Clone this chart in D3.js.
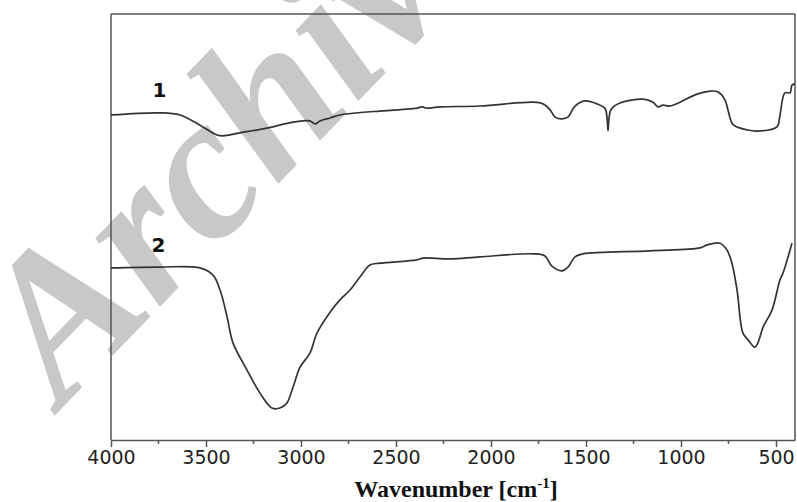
<!DOCTYPE html>
<html>
<head>
<meta charset="utf-8">
<script src="https://cdn.jsdelivr.net/npm/d3@7/dist/d3.min.js"></script>
<style>
  html, body { margin: 0; padding: 0; background: #fff; }
  svg { display: block; }
</style>
</head>
<body>
<svg id="chart" width="797" height="502"></svg>
<script>
// ---- data (wavenumber in cm^-1, transmittance in arbitrary units) ----
const wavenumber1 = [4000, 3742, 3637, 3532, 3442, 3411, 3321, 3179, 3042, 2953, 2926, 2900, 2847, 2795, 2653, 2584, 2390, 2363, 2337, 2268, 2058, 1779, 1726, 1689, 1663, 1626, 1595, 1558, 1505, 1442, 1400, 1389, 1384, 1379, 1368, 1321, 1200, 1147, 1121, 1095, 1058, 1005, 916, 847, 805, 768, 753, 732, 716, 653, 600, 495, 479, 453, 426, 416, 400];
const sample1 =    [76.3, 76.8, 76.3, 73.9, 71.6, 71.4, 72.1, 73.2, 74.6, 74.9, 74.2, 74.9, 75.6, 76.3, 77.0, 77.2, 77.9, 78.2, 77.9, 78.2, 78.4, 79.3, 78.9, 77.5, 75.8, 75.4, 75.8, 78.4, 79.6, 78.9, 77.8, 75.5, 72.6, 75.5, 77.6, 79.1, 80.0, 79.3, 78.2, 78.6, 78.4, 79.3, 81.2, 81.9, 81.7, 79.8, 77.5, 74.4, 73.7, 72.8, 72.5, 73.5, 76.3, 81.5, 81.5, 83.3, 83.6];

const wavenumber2 = [4000, 3742, 3532, 3463, 3426, 3389, 3358, 3284, 3216, 3153, 3111, 3074, 3042, 3005, 2953, 2916, 2847, 2795, 2742, 2689, 2637, 2584, 2390, 2358, 2216, 2058, 1779, 1716, 1679, 1626, 1595, 1558, 1516, 1163, 900, 863, 795, 758, 732, 705, 674, 647, 611, 595, 568, 521, 479, 463, 416];
const sample2 =    [40.4, 40.6, 40.4, 38.7, 35.2, 28.9, 22.8, 16.4, 11.0, 7.5, 7.5, 8.7, 12.4, 17.1, 20.4, 25.1, 30.0, 32.9, 35.2, 38.3, 41.1, 41.5, 42.3, 42.7, 42.5, 43.0, 43.7, 43.2, 40.8, 39.7, 40.6, 43.0, 43.7, 44.4, 45.1, 45.8, 46.2, 44.6, 41.5, 35.2, 25.1, 23.5, 21.8, 22.8, 26.5, 30.5, 37.6, 39.2, 46.2];

const majorTicks = [4000, 3500, 3000, 2500, 2000, 1500, 1000, 500];
const minorTicks = [3750, 3250, 2750, 2250, 1750, 1250, 750];
const seriesLabels = ["1", "2"];
const xTitle = "Wavenumber [cm";
const watermark = "Archive";

// ---- layout ----
const svg = d3.select("#chart");
const L = 111, R = 795, T = 14, B = 440;

const x = d3.scaleLinear().domain([4000, 400]).range([L, R]);
const y = d3.scaleLinear().domain([0, 100]).range([B, T]);

// watermark (behind everything)
svg.append("text")
  .attr("transform", "translate(62,408) rotate(-46)")
  .attr("font-family", "'Liberation Serif', 'Times New Roman', serif")
  .attr("font-weight", "bold")
  .attr("font-style", "italic")
  .attr("font-size", 205)
  .attr("fill", "#c8c8c8")
  .text(watermark);

// frame
const frame = svg.append("g").attr("stroke", "#555").attr("stroke-width", 1.5).attr("fill", "none");
frame.append("line").attr("x1", L).attr("x2", R).attr("y1", T).attr("y2", T);
frame.append("line").attr("x1", R).attr("x2", R).attr("y1", T).attr("y2", B);
frame.append("line").attr("x1", L).attr("x2", L).attr("y1", T).attr("y2", B);

// x axis
const ax = svg.append("g").attr("transform", `translate(0,${B})`)
  .call(d3.axisBottom(x).tickValues(majorTicks).tickSizeInner(7).tickSizeOuter(0).tickPadding(4).tickFormat(d3.format("d")));
ax.select(".domain").attr("stroke", "#555").attr("stroke-width", 1.5);
ax.selectAll(".tick line").attr("stroke", "#555").attr("stroke-width", 1.5);
ax.selectAll(".tick text")
  .attr("font-family", "'DejaVu Sans', Verdana, sans-serif")
  .attr("font-size", 19)
  .attr("fill", "#222");

svg.append("g").selectAll("line").data(minorTicks).join("line")
  .attr("x1", d => x(d)).attr("x2", d => x(d))
  .attr("y1", B).attr("y2", B + 4)
  .attr("stroke", "#555").attr("stroke-width", 1.5);

// axis title
const title = svg.append("text")
  .attr("x", 456)
  .attr("y", 497)
  .attr("text-anchor", "middle")
  .attr("font-family", "'Liberation Serif', 'Times New Roman', serif")
  .attr("font-weight", "bold")
  .attr("font-size", 24)
  .attr("fill", "#111");
title.append("tspan").text(xTitle);
title.append("tspan").attr("font-size", 15).attr("dy", -9).text("-1");
title.append("tspan").attr("dy", 9).text("]");

// spectra
const line = d3.line().x(d => x(d[0])).y(d => y(d[1])).curve(d3.curveCatmullRom.alpha(0.5));
const s1 = wavenumber1.map((w, i) => [w, sample1[i]]);
const s2 = wavenumber2.map((w, i) => [w, sample2[i]]);
svg.append("path").datum(s1).attr("d", line)
  .attr("fill", "none").attr("stroke", "#333").attr("stroke-width", 1.7);
svg.append("path").datum(s2).attr("d", line)
  .attr("fill", "none").attr("stroke", "#333").attr("stroke-width", 1.7);

// curve labels
const labelPos = [[3745, 97], [3750, 252]];
svg.append("g").selectAll("text").data(seriesLabels).join("text")
  .attr("x", (d, i) => x(labelPos[i][0]))
  .attr("y", (d, i) => labelPos[i][1])
  .attr("text-anchor", "middle")
  .attr("font-family", "'DejaVu Sans', Verdana, sans-serif")
  .attr("font-weight", "bold")
  .attr("font-size", 20)
  .attr("fill", "#111")
  .text(d => d);
</script>
</body>
</html>
